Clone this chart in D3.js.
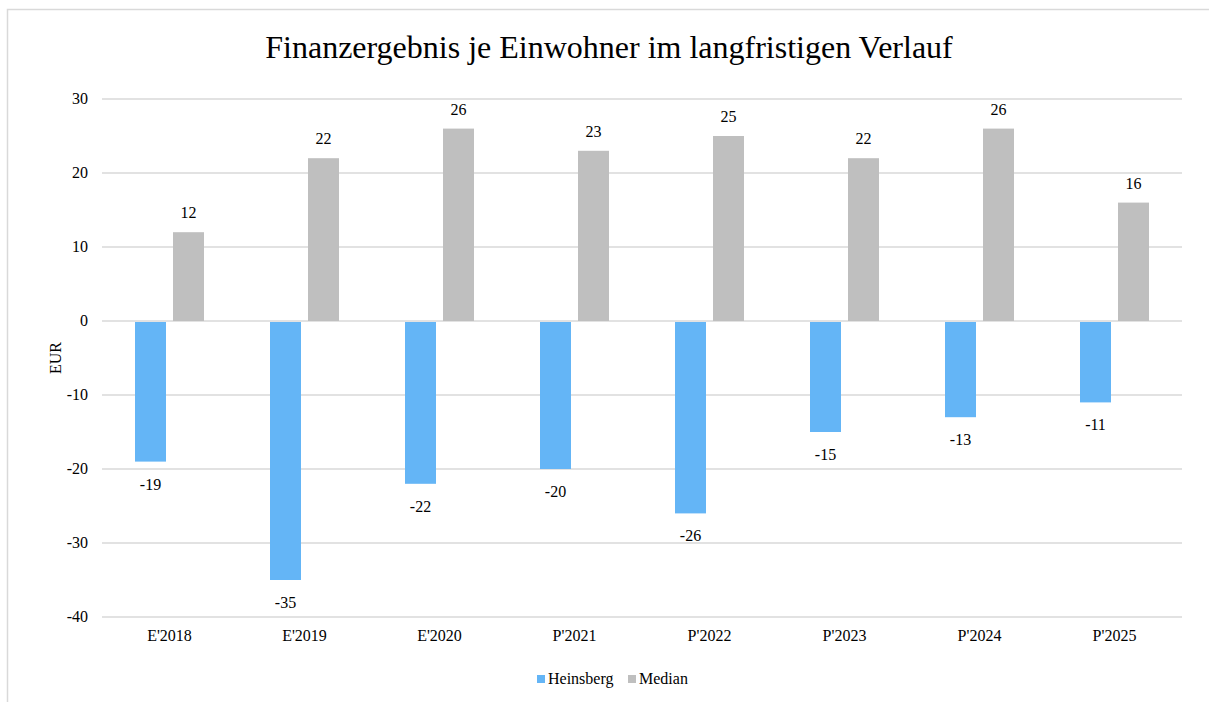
<!DOCTYPE html>
<html>
<head>
<meta charset="utf-8">
<script src="https://cdn.jsdelivr.net/npm/d3@7"></script>
<style>
  body { margin: 0; background: #fff; }
</style>
</head>
<body>
<svg width="1209" height="702"></svg>
<script>
var svg = d3.select('svg')

var width = +svg.attr('width')
var height = +svg.attr('height')

// data
var categories = ["E'2018", "E'2019", "E'2020", "P'2021", "P'2022", "P'2023", "P'2024", "P'2025"]
var heinsberg = [-19, -35, -22, -20, -26, -15, -13, -11]
var median = [12, 22, 26, 23, 25, 22, 26, 16]
var seriesNames = ["Heinsberg", "Median"]
var yTicks = [30, 20, 10, 0, -10, -20, -30, -40]

var colors = ["#64B5F6", "#BFBFBF"]
var gridColor = "#D9D9D9"
var fontFamily = "'Liberation Serif', 'Times New Roman', serif"

var plot = {left: 102, right: 1182, top: 99, bottom: 617}
var barWidth = 31
var barGap = 7

// chart frame
svg.append('rect')
  .attr('x', 7.5).attr('y', 9.5)
  .attr('width', 1215).attr('height', 705)
  .attr('fill', '#fff')
  .attr('stroke', gridColor)
  .attr('stroke-width', 1.5)

var x = d3.scaleBand()
  .domain(categories)
  .range([plot.left, plot.right])

var y = d3.scaleLinear()
  .domain([-40, 30])
  .range([plot.bottom, plot.top])

// gridlines
svg.append('g')
  .selectAll('line')
  .data(yTicks)
  .enter()
  .append('line')
  .attr('x1', plot.left)
  .attr('x2', plot.right)
  .attr('y1', function(d) { return y(d) })
  .attr('y2', function(d) { return y(d) })
  .attr('stroke', gridColor)
  .attr('stroke-width', 1.5)

// y tick labels
svg.append('g')
  .selectAll('text')
  .data(yTicks)
  .enter()
  .append('text')
  .attr('x', 88)
  .attr('y', function(d) { return y(d) + 5 })
  .attr('text-anchor', 'end')
  .attr('font-family', fontFamily)
  .attr('font-size', 16)
  .attr('fill', '#000')
  .text(function(d) { return d })

// x labels
svg.append('g')
  .selectAll('text')
  .data(categories)
  .enter()
  .append('text')
  .attr('x', function(d) { return x(d) + x.bandwidth()/2 })
  .attr('y', 641)
  .attr('text-anchor', 'middle')
  .attr('font-family', fontFamily)
  .attr('font-size', 16)
  .attr('fill', '#000')
  .text(function(d) { return d })

var rows = categories.map(function(c, i) {
  return {cat: c, values: [heinsberg[i], median[i]]}
})

function barX(cat, s) {
  var c = x(cat) + x.bandwidth()/2
  return s == 0 ? c - barGap/2 - barWidth : c + barGap/2
}

// bars
var groups = svg.append('g')
  .selectAll('g')
  .data(rows)
  .enter()
  .append('g')

groups.selectAll('rect')
  .data(function(d) { return d.values.map(function(v, s) { return {cat: d.cat, v: v, s: s} }) })
  .enter()
  .append('rect')
  .attr('x', function(d) { return barX(d.cat, d.s) })
  .attr('y', function(d) { return d.v >= 0 ? y(d.v) : y(0) + 1 })
  .attr('width', barWidth)
  .attr('height', function(d) { return Math.abs(y(d.v) - y(0)) - (d.v < 0 ? 1 : 0) })
  .attr('fill', function(d) { return colors[d.s] })

// value labels
groups.selectAll('text')
  .data(function(d) { return d.values.map(function(v, s) { return {cat: d.cat, v: v, s: s} }) })
  .enter()
  .append('text')
  .attr('x', function(d) { return barX(d.cat, d.s) + barWidth/2 })
  .attr('y', function(d) { return d.v >= 0 ? y(d.v) - 14 : y(d.v) + 28 })
  .attr('text-anchor', 'middle')
  .attr('font-family', fontFamily)
  .attr('font-size', 16)
  .attr('fill', '#000')
  .text(function(d) { return d.v })

// axis title
svg.append('text')
  .attr('transform', 'translate(61,' + ((plot.top + plot.bottom)/2) + ') rotate(-90)')
  .attr('text-anchor', 'middle')
  .attr('font-family', fontFamily)
  .attr('font-size', 16)
  .attr('fill', '#000')
  .text('EUR')

// chart title
svg.append('text')
  .attr('x', 609)
  .attr('y', 58)
  .attr('text-anchor', 'middle')
  .attr('font-family', fontFamily)
  .attr('font-size', 32)
  .attr('fill', '#000')
  .text('Finanzergebnis je Einwohner im langfristigen Verlauf')

// legend
var legendX = [537, 628]
var legend = svg.append('g')
  .selectAll('g')
  .data(seriesNames)
  .enter()
  .append('g')
  .attr('transform', function(d, i) { return 'translate(' + legendX[i] + ',675)' })
legend.append('rect')
  .attr('width', 8).attr('height', 8)
  .attr('fill', function(d, i) { return colors[i] })
legend.append('text')
  .attr('x', 11)
  .attr('y', 9)
  .attr('font-family', fontFamily)
  .attr('font-size', 16)
  .attr('fill', '#000')
  .text(function(d) { return d })
</script>
</body>
</html>
